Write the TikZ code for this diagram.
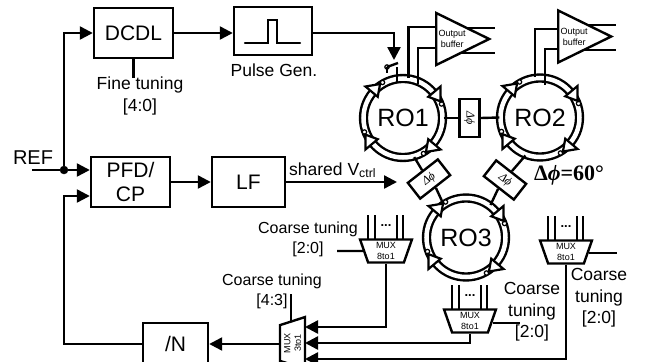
\documentclass[tikz,border=0pt]{standalone}
\usepackage{fontspec}
\usepackage{xcolor}
\usepackage{tikz}
\usetikzlibrary{positioning, arrows.meta, shapes.geometric, backgrounds, calc}
\setmainfont{Liberation Sans}
\newfontfamily\greekserif{Liberation Serif}

\tikzset{
  blockbox/.style={draw, line width=2.4pt, inner sep=0pt, align=center, font=\fontsize{21}{24}\selectfont},
  ringbox/.style={draw, circle, line width=2.4pt, double=white, double distance=4.5pt, minimum size=79pt, inner sep=0pt, font=\fontsize{25}{28}\selectfont},
  deltabox/.style={draw, line width=2.4pt, fill=white, minimum width=38pt, minimum height=20pt, inner sep=0pt, font=\greekserif\itshape\fontsize{12}{12}\selectfont},
  muxbox/.style={draw, trapezium, trapezium stretches=true, trapezium left angle=75, trapezium right angle=75, line width=2.4pt, fill=white, minimum width=52pt, minimum height=23pt, inner sep=0pt, align=center, font=\fontsize{9}{10.5}\selectfont},
  bufbox/.style={draw, isosceles triangle, isosceles triangle stretches=true, line width=2.4pt, fill=white, minimum width=52pt, minimum height=53pt, inner sep=0pt, align=center, font=\fontsize{9}{11}\selectfont},
  smalllabel/.style={align=center, inner sep=0pt, font=\fontsize{16}{20}\selectfont},
  biglabel/.style={align=center, inner sep=0pt, font=\fontsize{17.5}{21.5}\selectfont},
  wire/.style={line width=2.4pt},
  arr/.style={line width=2.4pt, -{Triangle[length=13pt,width=13pt]}},
}

\newcommand{\ringcells}[1]{%
  \begin{scope}[shift={(#1.center)}, y=1pt]
    \foreach \ang in {140,40,-40,-140}{
      \draw[line width=1.2pt, fill=white] ({\ang-20}:41) circle (2.2pt);
      \draw[line width=2.2pt, fill=white, line join=miter] (\ang:49) -- ({\ang-16}:41) -- (\ang:33) -- cycle;
    }
  \end{scope}}
\newcommand{\muxinputs}[1]{%
  \foreach \dx in {-18,-11,11,17}{
    \draw[wire] ($(#1.north)+(\dx,1)$) -- ++(0,-24);
  }
  \node[inner sep=0pt, font=\bfseries\fontsize{13}{13}\selectfont] at ($(#1.north)+(0,-13)$) {...};}

\begin{document}
\begin{tikzpicture}[x=1pt, y=-1pt]
    \useasboundingbox (0,0) rectangle (649,362);
    \clip (0,0) rectangle (649,362);

    \node[blockbox, minimum width=79pt, minimum height=50pt] (dcdl) at (133.5,33) {DCDL};
    \node[blockbox, minimum width=78pt, minimum height=48pt] (pulse) at (273,31) {};
    \node[biglabel] (pulselabel) at (274,70) {Pulse Gen.};
    \node[biglabel] (finelabel) at (140,96) {Fine tuning\\{[}4:0{]}};
    \node[blockbox, minimum width=79pt, minimum height=50pt] (pfd) at (130.5,182) {PFD/\\CP};
    \node[blockbox, minimum width=73pt, minimum height=50pt] (lf) at (248.5,182) {LF};
    \node[blockbox, minimum width=65pt, minimum height=42pt] (ndiv) at (175.5,344) {/N};
    \node[inner sep=0pt, font=\fontsize{20}{22}\selectfont] (reflabel) at (33,158) {REF};
    \node[draw, circle, fill=black, minimum size=8pt, inner sep=0pt] (refdot) at (64,170) {};
    \node[anchor=base west, inner sep=0pt, font=\fontsize{17.5}{20}\selectfont] (vctrl) at (289,175) {shared V\textsubscript{ctrl}};

    \node[ringbox] (ro1) at (403,118) {RO1};
    \node[ringbox] (ro2) at (540,117.5) {RO2};
    \node[ringbox] (ro3) at (466,237.5) {RO3};
    \node[deltabox, rotate=-90] (deltac) at (469.5,118) {Δϕ};
    \node[deltabox, rotate=38] (deltaa) at (429,179) {Δϕ};
    \node[deltabox, rotate=-38] (deltab) at (505,180) {Δϕ};
    \node[anchor=center, inner sep=0pt, font=\greekserif\bfseries\fontsize{22}{24}\selectfont] (deltalabel) at (569,175) {Δ\textit{ϕ}=60°};

    \node[bufbox, anchor=lower side] (bufa) at (435,39) {Output\\buffer};
    \node[bufbox, anchor=lower side] (bufb) at (557,36.5) {Output\\buffer};

    \node[muxbox, shape border rotate=180] (muxa) at (386,251) {MUX\\8to1};
    \node[muxbox, shape border rotate=180] (muxb) at (470,321) {MUX\\8to1};
    \node[muxbox, shape border rotate=180] (muxc) at (566,252) {MUX\\8to1};
    \node[muxbox, rotate=90, minimum height=25pt] (muxsel) at (292.5,343) {MUX\\3to1};

    \node[smalllabel] (coarsea) at (308,239) {Coarse tuning\\{[}2:0{]}};
    \node[smalllabel] (coarsesel) at (272,291) {Coarse tuning\\{[}4:3{]}};
    \node[biglabel] (coarseb) at (532,312) {Coarse\\tuning\\{[}2:0{]}};
    \node[biglabel] (coarsec) at (599,298) {Coarse\\tuning\\{[}2:0{]}};

    \coordinate (refin) at (32,170);
    \coordinate (fbturn) at (64,196);
    \coordinate (fineend) at (133.5,78);
    \coordinate (pulseturn) at (394,33);
    \coordinate (swtip) at (394,60);
    \coordinate (swhinge) at (387,67);
    \coordinate (swarm) at (398,63);
    \coordinate (vctrlend) at (397,182);
    \coordinate (selctl) at (291,294);
    \coordinate (selctlend) at (291,321);
    \coordinate (selout) at (280,344);
    \coordinate (selina) at (305,327);
    \coordinate (selinb) at (305,343);
    \coordinate (selinc) at (305,359);
    \coordinate (muxaleft) at (337,251);
    \coordinate (muxbright) at (520,323);
    \coordinate (muxcright) at (617,253);

    \draw[wire] (refin) -- (refdot);
    \draw[arr] (refdot) -- (refdot -| pfd.west);
    \draw[arr] (refdot) |- (dcdl.west);
    \draw[arr] (ndiv.west) -| (fbturn) -- (fbturn -| pfd.west);
    \draw[wire] (dcdl.south) -- (fineend);
    \draw[arr] (dcdl.east) -- (dcdl.east -| pulse.west);
    \draw[arr] (pfd.east) -- (lf.west);
    \draw[arr] (lf.east) -- (vctrlend);
    \draw[arr] (dcdl.east -| pulse.east) -- (pulseturn) -- (swtip);
    \draw[wire, line cap=round] ($(pulse.center)+(-28,12)$) -- ++(23,0) -- ++(0,-23) -- ++(9,0) -- ++(0,23) -- ++(23,0);

    \draw[line width=1.2pt, fill=white] (swhinge) circle (2.2pt);
    \draw[wire] (swhinge) -- (swarm);
    \draw[wire] (swhinge) -- ++(0,6);
    \draw[wire] (397,67) -- (397,82);

    \draw[wire] (ro1.east) -- (deltac.south);
    \draw[wire] (deltac.north) -- (ro2.west);
    \draw[wire] (ro1.-74) -- (deltaa.north);
    \draw[wire] (deltaa.south) -- (ro3.124);
    \draw[wire] (ro2.-111) -- (deltab.north);
    \draw[wire] (deltab.south) -- (ro3.53);

    \begin{scope}[on background layer]
      \draw[wire] (bufa.center |- 0,28) -- (495,28);
      \draw[wire] (bufa.center |- 0,53) -- (495,53);
      \draw[wire] (bufb.center |- 0,25) -- (616,25);
      \draw[wire] (bufb.center |- 0,50) -- (616,50);
    \end{scope}
    \draw[wire] (ro1.82) |- (bufa.lower side |- 0,27);
    \draw[wire] (418,84) |- (bufa.lower side |- 0,48);
    \draw[wire] (ro2.97) |- (bufb.lower side |- 0,29);
    \draw[wire] (545,85) |- (bufb.lower side |- 0,49);

    \muxinputs{muxa}
    \muxinputs{muxb}
    \muxinputs{muxc}
    \draw[wire] (muxaleft) -- (muxa.west);
    \draw[wire] (muxb.east |- muxbright) -- (muxbright);
    \draw[wire] (muxc.east |- muxcright) -- (muxcright);
    \draw[wire] (selctl) -- (selctlend);
    \draw[arr] (selout) -- (ndiv.east);
    \draw[arr] (muxa.south) |- (selina);
    \draw[arr] (muxb.south) |- (selinb);
    \draw[arr] (muxc.south) |- (selinc);

    \ringcells{ro1}
    \ringcells{ro2}
    \ringcells{ro3}
  \end{tikzpicture}
\end{document}
